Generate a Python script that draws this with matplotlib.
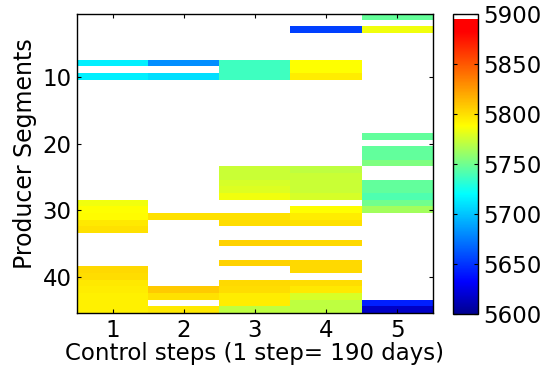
import numpy as np
import matplotlib
matplotlib.use("Agg")
import matplotlib.pyplot as plt
from matplotlib.colors import LinearSegmentedColormap

plt.rcParams['font.family'] = ['DejaVu Sans']

n_segments = 45
steps = [1, 2, 3, 4, 5]

# segment -> value for each control step (missing segments stay blank)
step1 = {8: 5715, 10: 5715,
         29: 5784, 30: 5788, 31: 5789, 32: 5796, 33: 5799,
         39: 5802, 40: 5800, 41: 5796, 42: 5794, 43: 5793, 44: 5793, 45: 5793}
step2 = {8: 5681, 10: 5709,
         31: 5799, 42: 5807, 43: 5799, 45: 5796}
step3 = {8: 5737, 9: 5737, 10: 5737,
         24: 5774, 25: 5774, 26: 5777, 27: 5779, 28: 5784,
         31: 5799, 32: 5800, 35: 5804, 38: 5804,
         41: 5802, 42: 5800, 43: 5794, 44: 5794, 45: 5771}
step4 = {3: 5654, 8: 5788, 9: 5788, 10: 5794,
         24: 5771, 25: 5774, 26: 5774, 27: 5774, 28: 5777,
         30: 5788, 31: 5794, 32: 5799, 35: 5802, 38: 5802, 39: 5802,
         41: 5800, 42: 5796, 43: 5777, 44: 5771, 45: 5771}
step5 = {1: 5747, 3: 5784,
         19: 5746, 21: 5746, 22: 5746, 23: 5754,
         26: 5746, 27: 5746, 28: 5741, 29: 5750, 30: 5763,
         44: 5643, 45: 5616}

clim_low, clim_high = 5600, 5900
cbar_ticks = [5600, 5650, 5700, 5750, 5800, 5850, 5900]

# jet-like ramp that stops at bright red, with a white slot on top for empty cells
anchors = [(5600, (0, 0, 0.56)), (5632, (0, 0, 1)), (5720, (0, 1, 1)),
           (5788, (1, 1, 0)), (5882, (1, 0, 0)), (5895, (1, 0, 0)),
           (5895.3, (1, 1, 1)), (5900, (1, 1, 1))]
cmap = LinearSegmentedColormap.from_list(
    'jet_white', [((v - clim_low) / (clim_high - clim_low), c) for v, c in anchors], N=512)
cmap.set_bad('white')

grid = np.full((n_segments, len(steps)), np.nan)
for j, d in enumerate([step1, step2, step3, step4, step5]):
    for seg, val in d.items():
        grid[seg - 1, j] = val
grid = np.ma.masked_invalid(grid)

fig = plt.figure(figsize=(5.51, 3.71), dpi=100)
ax = fig.add_axes([0.1397, 0.156, 0.646, 0.806])
im = ax.imshow(grid, cmap=cmap, vmin=clim_low, vmax=clim_high, aspect='auto',
               interpolation='nearest', extent=[0.5, 5.5, n_segments + 0.5, 0.5])

ax.set_xticks(steps)
ax.set_yticks([10, 20, 30, 40])
ax.tick_params(direction='in', top=True, right=True, labelsize=16.5, length=3, width=0.8, pad=4)
ax.set_xlabel('Control steps (1 step= 190 days)', fontsize=16.5, labelpad=0)
ax.set_ylabel('Producer Segments', fontsize=17)
ax.yaxis.set_label_coords(-0.112, 0.533)
for s in ax.spines.values():
    s.set_linewidth(1.0)

cax = fig.add_axes([0.822, 0.154, 0.0454, 0.809])
cb = fig.colorbar(im, cax=cax, ticks=cbar_ticks)
cb.ax.tick_params(direction='in', left=True, right=True, labelsize=16.5, length=3, width=0.8, pad=4)
cb.outline.set_linewidth(1.0)

fig.savefig('out.png', dpi=100)
